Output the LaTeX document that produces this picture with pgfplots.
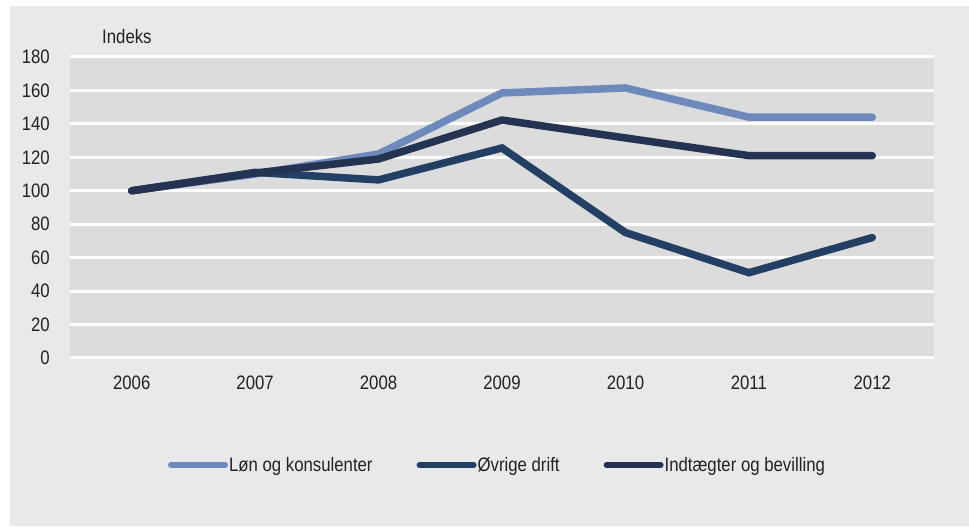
\documentclass[border=0pt]{standalone}
\usepackage{fontspec}
\setmainfont{Liberation Sans}[FakeStretch=0.86]
\usepackage{pgfplots}
\pgfplotsset{compat=1.18}
\definecolor{panel}{HTML}{E9E9E9}
\definecolor{plotgray}{HTML}{DCDCDC}
\definecolor{lon}{HTML}{6E89BC}
\definecolor{ovr}{HTML}{233F63}
\definecolor{ind}{HTML}{253352}
\definecolor{txt}{HTML}{222222}
\newcommand{\cf}{\fontsize{19.5pt}{23pt}\selectfont}
\begin{document}
\begin{tikzpicture}[x=1pt,y=1pt]
\path[use as bounding box] (0,0) rectangle (969,527);
\fill[white] (0,0) rectangle (969,527);
\fill[panel] (10,1) rectangle (969,521);
\node[anchor=west, inner sep=0pt, text=txt, font=\cf] at (102,490) {Indeks};
\begin{axis}[
  at={(70pt,169pt)}, anchor=south west,
  scale only axis, width=864pt, height=301pt,
  xmin=-0.5, xmax=6.5, ymin=0, ymax=180,
  ytick={0,20,...,180},
  xtick={0,...,6},
  xticklabels={2006,2007,2008,2009,2010,2011,2012},
  axis line style={draw=none},
  tick style={draw=none},
  axis background/.style={fill=plotgray},
  ymajorgrids, major grid style={white, line width=3pt},
  /pgf/number format/assume math mode=true,
  /pgf/number format/1000 sep={},
  tick label style={font=\cf, text=txt},
  yticklabel style={inner sep=0pt, anchor=east, xshift=-20pt},
  xticklabel style={inner sep=0pt, anchor=north, yshift=-18pt},
  legend columns=3,
  legend style={at={(0.5,0)}, anchor=center, xshift=-5pt, yshift=-107pt,
    draw=none, fill=none, font=\cf, text=txt,
    /tikz/every even column/.append style={column sep=43pt},
    nodes={inner sep=1pt}},
  legend image code/.code={\draw[#1, line width=6pt, line cap=round] (0pt,0pt) -- (54pt,0pt);},
  every axis plot/.append style={line width=7.5pt, line cap=round, line join=miter},
]
\addplot[lon] coordinates {(0,100) (1,110) (2,122) (3,158.5) (4,161.5) (5,144) (6,144)};
\addplot[ovr] coordinates {(0,100) (1,111) (2,106.5) (3,125.6) (4,75) (5,51) (6,72)};
\addplot[ind] coordinates {(0,100) (1,110.6) (2,119) (3,142.3) (4,131.6) (5,121) (6,121)};
\legend{Løn og konsulenter, Øvrige drift, Indtægter og bevilling}
\end{axis}
\end{tikzpicture}
\end{document}
